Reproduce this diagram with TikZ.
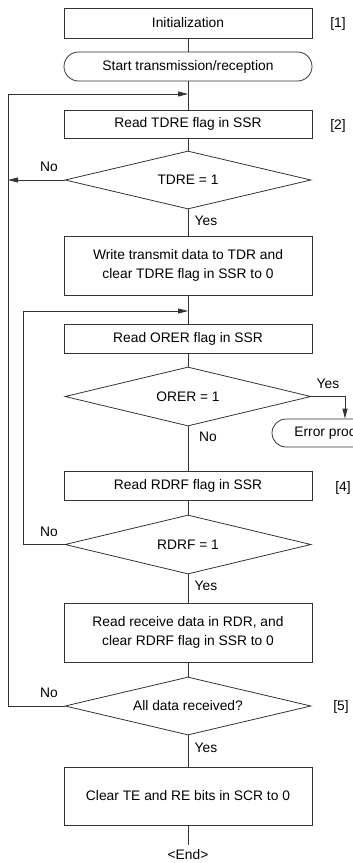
\documentclass[tikz,border=0pt]{standalone}
\usepackage{fontspec}
\setmainfont{Liberation Sans}
\usetikzlibrary{positioning,arrows.meta,shapes.geometric,calc}

\begin{document}
\begin{tikzpicture}[x=1pt, y=-1pt,
          every node/.style={font=\fontsize{13.8}{19}\selectfont},
          wire/.style={draw=black!80, line width=0.8pt},
          proc/.style={wire, rectangle, minimum width=248pt, align=center, inner sep=2pt},
          term/.style={wire, rectangle, rounded corners=14pt, minimum height=28pt, inner sep=2pt},
          decide/.style={wire, diamond, aspect=4.2, minimum width=246pt, minimum height=58pt, inner sep=0pt},
          tag/.style={inner sep=0pt},
          arr/.style={wire, -{Triangle[length=10pt,width=5pt]}}
      ]
        \useasboundingbox (0,0) rectangle (353,863);
        \clip (0,0) rectangle (353,863);

        \node[proc, minimum height=30pt] (init) at (188,23) {Initialization};
        \node[term, minimum width=248pt, rounded corners=14.5pt, minimum height=29pt] (start) at (188,66.5) {Start transmission/reception};
        \node[proc, minimum height=28pt] (rdtdre) at (188,124) {Read TDRE flag in SSR};
        \node[decide] (tdre) at (188,180) {TDRE = 1};
        \node[proc, minimum height=59pt] (wrtdr) at (188,265.5) {Write transmit data to TDR and\\clear TDRE flag in SSR to 0};
        \node[proc, minimum height=29pt] (rdorer) at (188,338.5) {Read ORER flag in SSR};
        \node[decide, minimum height=59pt] (orer) at (188,396.5) {ORER = 1};
        \node[term, minimum width=146pt] (errproc) at (345,433) {Error processing};
        \node[proc, minimum height=29pt] (rdrdrf) at (188,485.5) {Read RDRF flag in SSR};
        \node[decide, minimum height=59pt] (rdrf) at (188,544.5) {RDRF = 1};
        \node[proc, minimum height=59pt] (rdrdr) at (188,632.5) {Read receive data in RDR, and\\clear RDRF flag in SSR to 0};
        \node[decide] (alldone) at (188,706) {All data received?};
        \node[proc, minimum height=58pt] (clrbits) at (188,796) {Clear TE and RE bits in SCR to 0};
        \node[tag] (fin) at (188,855) {<End>};

        % step numbers
        \node[tag] (n1) at (338,24) {[1]};
        \node[tag] (n2) at (338,126) {[2]};
        \node[tag] (n4) at (343,488) {[4]};
        \node[tag] (n5) at (341,707) {[5]};

        % branch labels
        \node[tag] (noa) at (49,167) {No};
        \node[tag] (yesa) at (206,221) {Yes};
        \node[tag] (yesb) at (328,384) {Yes};
        \node[tag] (nob) at (208,437) {No};
        \node[tag] (noc) at (49,532) {No};
        \node[tag] (yesc) at (206,586) {Yes};
        \node[tag] (nod) at (49,693) {No};
        \node[tag] (yesd) at (206,748) {Yes};

        \coordinate (outer) at (8,94);
        \coordinate (inner) at (23,311);
        \coordinate (endpt) at (188,845);

        \draw[wire] (init) -- (start);
        \draw[wire] (start) -- (rdtdre);
        \draw[wire] (rdtdre) -- (tdre);
        \draw[wire] (tdre) -- (wrtdr);
        \draw[wire] (wrtdr) -- (rdorer);
        \draw[wire] (rdorer) -- (orer);
        \draw[wire] (orer) -- (rdrdrf);
        \draw[wire] (rdrdrf) -- (rdrf);
        \draw[wire] (rdrf) -- (rdrdr);
        \draw[wire] (rdrdr) -- (alldone);
        \draw[wire] (alldone) -- (clrbits);
        \draw[wire] (clrbits) -- (endpt);

        \draw[arr] (tdre.west) -- (tdre.west -| outer);
        \draw[arr] (orer.east) -| (errproc.north);
        \draw[arr] (rdrf.west) -| (inner) -- (inner -| init);
        \draw[arr] (alldone.west) -| (outer) -- (outer -| init);
      \end{tikzpicture}
\end{document}
